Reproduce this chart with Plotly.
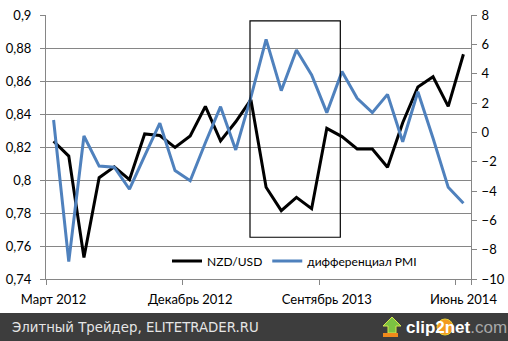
import plotly.graph_objects as go

months = ["Март 2012", "Апрель 2012", "Май 2012", "Июнь 2012", "Июль 2012", "Август 2012",
          "Сентябрь 2012", "Октябрь 2012", "Ноябрь 2012", "Декабрь 2012", "Январь 2013",
          "Февраль 2013", "Март 2013", "Апрель 2013", "Май 2013", "Июнь 2013", "Июль 2013",
          "Август 2013", "Сентябрь 2013", "Октябрь 2013", "Ноябрь 2013", "Декабрь 2013",
          "Январь 2014", "Февраль 2014", "Март 2014", "Апрель 2014", "Май 2014", "Июнь 2014"]

nzd_usd = [0.8235, 0.8145, 0.753, 0.8014, 0.808, 0.8002, 0.8279, 0.827, 0.8198, 0.8267,
           0.8446, 0.8237, 0.8353, 0.8487, 0.7956, 0.7814, 0.7895, 0.7826, 0.8313, 0.8263,
           0.8188, 0.8188, 0.8077, 0.8347, 0.8564, 0.8626, 0.8446, 0.8762]

pmi_diff = [0.84, -8.82, -0.25, -2.3, -2.38, -3.88, -1.6, 0.62, -2.61, -3.3,
            -0.71, 1.75, -1.2, 2.4, 6.34, 2.84, 5.61, 3.91, 1.34, 4.14,
            2.32, 1.34, 2.59, -0.64, 2.77, -0.4, -3.75, -4.84]

tick_months = [months[0], months[9], months[18], months[27]]
left_ticks = [0.74, 0.76, 0.78, 0.8, 0.82, 0.84, 0.86, 0.88, 0.9]
left_labels = ["0,74", "0,76", "0,78", "0,8", "0,82", "0,84", "0,86", "0,88", "0,9"]
right_ticks = [-10, -8, -6, -4, -2, 0, 2, 4, 6, 8]

W, H = 508, 341
ML, MR, MT, MB = 46, 37, 15, 62
PW, PH = W - ML - MR, H - MT - MB


def px(x):
    return (x - ML) / PW


def py(y):
    return (H - MB - y) / PH


fig = go.Figure()
fig.add_trace(go.Scatter(x=months, y=nzd_usd, mode="lines", name="NZD/USD",
                         line=dict(color="#000000", width=3)))
fig.add_trace(go.Scatter(x=months, y=pmi_diff, mode="lines", name="дифференциал PMI",
                         line=dict(color="#4F81BD", width=3), yaxis="y2"))

font_axis = dict(family="Lato, Open Sans, sans-serif", size=13, color="#000000")

fig.update_layout(
    width=W, height=H,
    margin=dict(l=ML, r=MR, t=MT, b=MB, pad=0, autoexpand=False),
    paper_bgcolor="white", plot_bgcolor="white",
    showlegend=True,
    legend=dict(orientation="h", x=px(167), y=py(261), xanchor="left", yanchor="middle",
                bgcolor="rgba(0,0,0,0)", font=dict(family="Lato, sans-serif", size=12, color="#000"),
                itemwidth=30, tracegroupgap=0),
    xaxis=dict(type="category", tickvals=tick_months, ticktext=tick_months,
               tickson="boundaries", ticks="outside", ticklen=5, tickcolor="#868686",
               showline=True, linecolor="#868686", linewidth=1, showgrid=False,
               range=[-0.5, 27.5], tickfont=font_axis, ticklabelstandoff=8,
               tickangle=0, automargin=False),
    yaxis=dict(range=[0.74, 0.9], tickvals=left_ticks, ticktext=left_labels,
               ticks="outside", ticklen=5, tickcolor="#868686",
               showline=True, linecolor="#868686", showgrid=True, gridcolor="#868686",
               gridwidth=1, zeroline=False, tickfont=font_axis, ticklabelstandoff=6,
               automargin=False),
    yaxis2=dict(range=[-10, 8], tickvals=right_ticks, overlaying="y", side="right",
                ticks="outside", ticklen=5, tickcolor="#868686",
                showline=True, linecolor="#868686", showgrid=False, zeroline=False,
                tickfont=font_axis, ticklabelstandoff=2, automargin=False),
)

# highlighted rectangle
fig.add_shape(type="rect", xref="x", yref="y", x0=12.94, x1=18.89, y0=0.7653, y1=0.8965,
              line=dict(color="#000000", width=1.2), fillcolor="rgba(0,0,0,0)")

# bottom dark bar
fig.add_shape(type="rect", xref="paper", yref="paper", x0=px(0), x1=px(W), y0=py(341), y1=py(313),
              line=dict(width=0), fillcolor="#3d3d3d", layer="above")

fig.add_annotation(xref="paper", yref="paper", x=px(10), y=py(327), xanchor="left", yanchor="middle",
                   text="Элитный Трейдер, ELITETRADER.RU", showarrow=False,
                   font=dict(family="DejaVu Sans, sans-serif", size=13.3, color="#e6e6e6"))

# clip2net logo: "2" on orange disc
fig.add_shape(type="circle", xref="paper", yref="paper", x0=px(437), x1=px(453), y0=py(335), y1=py(319),
              fillcolor="#f39a1e", line=dict(color="#e9d23a", width=1), layer="above")
fig.add_annotation(xref="paper", yref="paper", x=px(404), y=py(327), xanchor="left", yanchor="middle",
                   text="<b>clip2net</b><span style='color:#a8a8a8'>.com</span>",
                   showarrow=False,
                   font=dict(family="Liberation Sans, Arial, sans-serif", size=17, color="#ffffff"))

# clip2net icon: green arrow with orange base
arrow = "M {} {} L {} {} L {} {} L {} {} L {} {} L {} {} L {} {} Z".format(
    px(392), py(317), px(401), py(326), px(396), py(326), px(396), py(333),
    px(388), py(333), px(388), py(326), px(383), py(326))
fig.add_shape(type="path", xref="paper", yref="paper", path=arrow,
              fillcolor="#7cc242", line=dict(color="#d6e84a", width=1), layer="above")
fig.add_shape(type="rect", xref="paper", yref="paper", x0=px(383), x1=px(398), y0=py(337), y1=py(333),
              fillcolor="#f08a1c", line=dict(width=0), layer="above")

fig.write_html("out.html")
